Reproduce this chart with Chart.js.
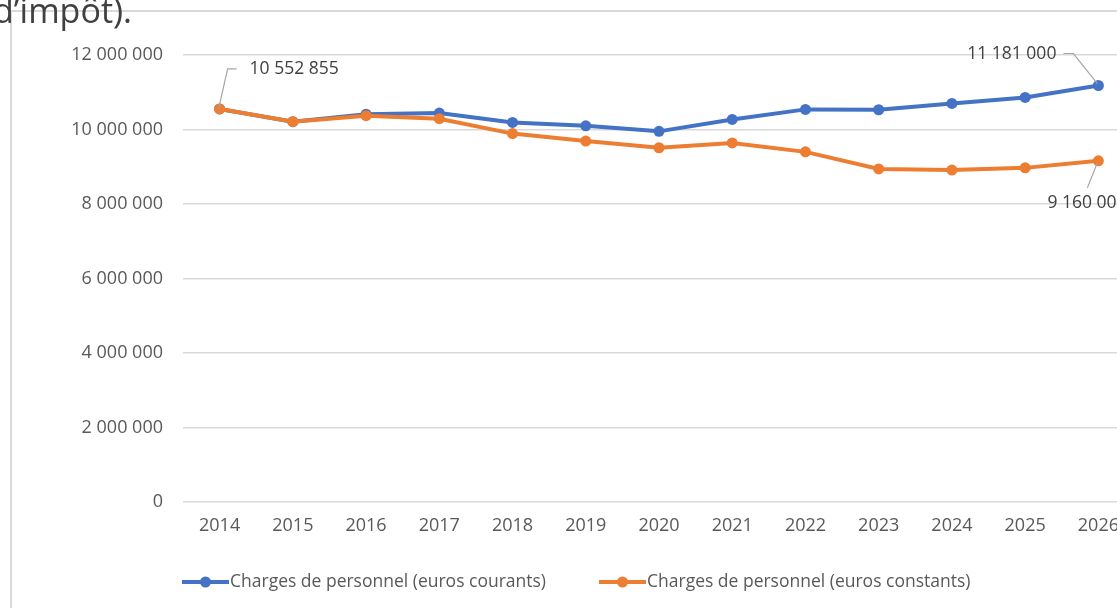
<!DOCTYPE html>
<html><head><meta charset="utf-8">
<script src="https://cdn.jsdelivr.net/npm/chart.js@4.4.1/dist/chart.umd.min.js"></script>
<style>
html,body{margin:0;padding:0;width:1117px;height:608px;overflow:hidden;background:#fff;}
#frame{position:absolute;left:10px;top:10px;width:1200px;height:700px;border-left:2px solid #d9d9d9;border-top:2px solid #d9d9d9;}
#wrap{position:absolute;left:0;top:0;width:1160px;height:608px;}
#head{position:absolute;left:-7px;top:-13px;font-family:"Open Sans",sans-serif;font-size:34px;color:#404040;white-space:nowrap;background:transparent;}
</style></head>
<body>
<div id="frame"></div>
<div id="wrap"><canvas id="c" width="1160" height="608"></canvas></div>
<div id="head">d’impôt).</div>
<script>
const years = ['2014','2015','2016','2017','2018','2019','2020','2021','2022','2023','2024','2025','2026'];
const courants = [10552855,10210000,10410000,10440000,10190000,10100000,9950000,10270000,10540000,10530000,10700000,10860000,11181000];
const constants = [10552855,10210000,10370000,10290000,9890000,9690000,9510000,9640000,9400000,8940000,8910000,8970000,9160000];
const yTicks = [0,2000000,4000000,6000000,8000000,10000000,12000000];
const seriesNames = ['Charges de personnel (euros courants)','Charges de personnel (euros constants)'];

function fmt(v){return String(Math.round(v)).replace(/\B(?=(\d{3})+(?!\d))/g,' ');}
const FONT = '"Open Sans", sans-serif';
const TXT = '#595959';

const labelPlugin = {
  id:'labels',
  afterDatasetsDraw(chart){
    const ctx = chart.ctx;
    const mB = chart.getDatasetMeta(0).data;
    const mO = chart.getDatasetMeta(1).data;
    ctx.save();
    ctx.font = '17.5px ' + FONT;
    ctx.fillStyle = '#404040';
    ctx.strokeStyle = '#a6a6a6';
    ctx.lineWidth = 1.2;
    ctx.textBaseline = 'middle';
    let p = mO[0];
    ctx.beginPath(); ctx.moveTo(p.x-1,p.y); ctx.lineTo(p.x+8,p.y-40); ctx.lineTo(p.x+17,p.y-40); ctx.stroke();
    ctx.textAlign='left'; ctx.fillText(fmt(constants[0]), p.x+30, p.y-40);
    p = mB[mB.length-1];
    ctx.beginPath(); ctx.moveTo(p.x-1,p.y-2); ctx.lineTo(p.x-25,p.y-32); ctx.lineTo(p.x-35,p.y-32); ctx.stroke();
    ctx.textAlign='right'; ctx.fillText(fmt(courants[courants.length-1]), p.x-42, p.y-31);
    p = mO[mO.length-1];
    ctx.beginPath(); ctx.moveTo(p.x-1,p.y+2); ctx.lineTo(p.x-11,p.y+27); ctx.stroke();
    ctx.textAlign='left'; ctx.fillText(fmt(constants[constants.length-1]), p.x-51, p.y+42);
    ctx.restore();
  }
};

const legendPlugin = {
  id:'customLegend',
  afterDraw(chart){
    const ctx = chart.ctx;
    const ds = chart.data.datasets;
    const starts = [182, 599];
    ctx.save();
    ctx.font = '17.5px ' + FONT;
    ctx.textBaseline = 'middle';
    ctx.textAlign = 'left';
    const y = 582;
    ds.forEach((d,i)=>{
      const x = starts[i];
      ctx.strokeStyle = d.borderColor; ctx.lineWidth = 4;
      ctx.beginPath(); ctx.moveTo(x,y); ctx.lineTo(x+47,y); ctx.stroke();
      ctx.fillStyle = d.borderColor;
      ctx.beginPath(); ctx.arc(x+23.5,y,5.5,0,Math.PI*2); ctx.fill();
      ctx.fillStyle = TXT;
      ctx.fillText(d.label, x+48, y);
    });
    ctx.restore();
  }
};

new Chart(document.getElementById('c'), {
  type:'line',
  data:{
    labels: years,
    datasets:[
      {label:seriesNames[0], data:courants, borderColor:'#4472C4', backgroundColor:'#4472C4', borderWidth:4, pointRadius:5.5, pointBackgroundColor:'#4472C4', pointBorderWidth:0, tension:0, order:1},
      {label:seriesNames[1], data:constants, borderColor:'#ED7D31', backgroundColor:'#ED7D31', borderWidth:4, pointRadius:5.5, pointBackgroundColor:'#ED7D31', pointBorderWidth:0, tension:0, order:0}
    ]
  },
  options:{
    responsive:false, animation:false, devicePixelRatio:1,
    layout:{padding:{left:0,right:25,top:55,bottom:0}},
    plugins:{legend:{display:false}, tooltip:{enabled:false}},
    scales:{
      x:{
        offset:true,
        grid:{display:false, drawTicks:false},
        border:{display:false},
        ticks:{font:{family:FONT,size:18}, color:TXT, padding:13, maxRotation:0, autoSkip:false},
        afterFit(s){ s.height = 106; }
      },
      y:{
        min:0, max:12000000,
        afterBuildTicks(s){ s.ticks = yTicks.map(v=>({value:v})); },
        grid:{color:'#d9d9d9', lineWidth:1.5, drawTicks:false},
        border:{display:false},
        ticks:{font:{family:FONT,size:18}, color:TXT, padding:20, callback:(v)=>fmt(v)},
        afterFit(s){ s.width = 183; }
      }
    }
  },
  plugins:[labelPlugin, legendPlugin]
});
</script>
</body></html>
